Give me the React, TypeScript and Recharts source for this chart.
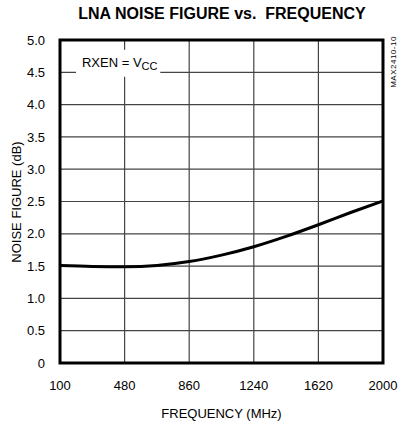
import {
  LineChart,
  Line,
  XAxis,
  YAxis,
  CartesianGrid,
  ReferenceArea,
} from 'recharts';

const FREQ_MHZ = [100, 290, 480, 670, 860, 1050, 1240, 1430, 1620, 1810, 2000];
const NOISE_FIGURE_DB = [1.51, 1.495, 1.49, 1.51, 1.57, 1.67, 1.8, 1.96, 2.14, 2.33, 2.51];
const X_TICKS = [100, 480, 860, 1240, 1620, 2000];
const Y_TICKS = [0, 0.5, 1, 1.5, 2, 2.5, 3, 3.5, 4, 4.5, 5];

const FONT = '"Liberation Sans", Arial, Helvetica, sans-serif';

const data = FREQ_MHZ.map((f, i) => ({ f, nf: NOISE_FIGURE_DB[i] }));

// label with a white box behind it, cutting the grid like the datasheet plot
function RxenLabel({ viewBox }: any) {
  const { x, y, height } = viewBox;
  return (
    <text x={x + 6} y={y + height - 10} fontFamily={FONT} fontSize={13} fill="#000">
      RXEN = V
      <tspan fontSize={11} dy={3}>CC</tspan>
    </text>
  );
}

export default function App() {
  return (
    <div style={{ position: 'absolute', left: 0, top: 0, width: 400, height: 423, background: '#fff', fontFamily: FONT }}>
      <div
        style={{
          position: 'absolute',
          left: 0,
          width: 444,
          top: 5,
          textAlign: 'center',
          fontSize: 16,
          fontWeight: 'bold',
          lineHeight: '18px',
        }}
      >
        LNA NOISE FIGURE vs.&nbsp; FREQUENCY
      </div>
      <div
        style={{
          position: 'absolute',
          left: 15.5,
          top: 201.5,
          transform: 'translate(-50%, -50%) rotate(-90deg)',
          whiteSpace: 'nowrap',
          fontSize: 13,
        }}
      >
        NOISE FIGURE (dB)
      </div>
      <div
        style={{
          position: 'absolute',
          left: 393,
          top: 62,
          transform: 'translate(-50%, -50%) rotate(-90deg)',
          whiteSpace: 'nowrap',
          fontSize: 8,
          letterSpacing: 0.5,
        }}
      >
        MAX2410-10
      </div>
      <LineChart
        width={400}
        height={423}
        data={data}
        margin={{ top: 40, right: 17, bottom: 0, left: 0 }}
      >
        <CartesianGrid stroke="#444" strokeWidth={1.2} ticks={X_TICKS} />
        <XAxis
          dataKey="f"
          type="number"
          domain={[100, 2000]}
          ticks={X_TICKS}
          tickSize={0}
          tickMargin={18}
          axisLine={false}
          tick={{ fontSize: 13, fill: '#000', fontFamily: FONT }}
          height={60}
          label={{ value: 'FREQUENCY (MHz)', position: 'insideBottom', offset: 5, fontSize: 13, fill: '#000', fontFamily: FONT }}
        />
        <YAxis
          type="number"
          domain={[0, 5]}
          ticks={Y_TICKS}
          tickSize={0}
          tickMargin={15}
          axisLine={false}
          width={60}
          tick={{ fontSize: 13, fill: '#000', fontFamily: FONT }}
          tickFormatter={(v: number) => (v === 0 ? '0' : v.toFixed(1))}
        />
        <ReferenceArea
          x1={194}
          x2={690}
          y1={4.43}
          y2={4.85}
          fill="#fff"
          fillOpacity={1}
          stroke="none"
          label={<RxenLabel />}
        />
        <Line
          type="monotone"
          dataKey="nf"
          stroke="#000"
          strokeWidth={3}
          dot={false}
          isAnimationActive={false}
        />
        <ReferenceArea
          x1={100}
          x2={2000}
          y1={0}
          y2={5}
          fill="none"
          stroke="#000"
          strokeWidth={3}
        />
      </LineChart>
    </div>
  );
}
